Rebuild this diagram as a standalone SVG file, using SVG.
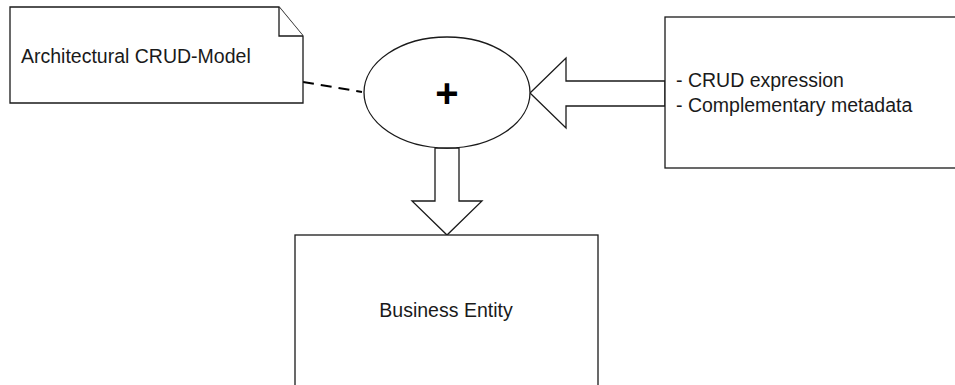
<svg xmlns="http://www.w3.org/2000/svg" width="955" height="385" viewBox="0 0 955 385">
  <style>
    .shape { fill: #ffffff; stroke: #1a1a1a; stroke-width: 1.3; }
    .label { font-family: "Liberation Sans", Arial, sans-serif; font-size: 19.5px; fill: #1a1a1a; }
    .dash { fill: none; stroke: #000; stroke-width: 2; stroke-dasharray: 11 7; }
  </style>
  <rect width="955" height="385" fill="#ffffff"/>

  <!-- connectors -->
  <g id="connectors">
    <line class="dash" x1="303" y1="82" x2="362" y2="92"/>
    <!-- block arrow from the metadata box into the merge node -->
    <polygon class="shape" points="665,81 566,81 566,58 530,93 566,128 566,106 665,106"/>
    <!-- block arrow from the merge node down to the entity -->
    <polygon class="shape" points="435,148 435,201 412,201 447,235 482,201 459,201 459,148"/>
  </g>

  <!-- note with folded corner -->
  <g id="crud-model">
    <path class="shape" d="M10,7 H279 L303,36 V103 H10 Z"/>
    <path class="shape" d="M279,7 V36 H303" fill="none"/>
    <text class="label" x="21" y="63">Architectural CRUD-Model</text>
  </g>

  <!-- merge node -->
  <g id="merge">
    <ellipse class="shape" cx="447" cy="92.5" rx="83" ry="55.5"/>
    <text x="447" y="107" text-anchor="middle" font-family="Liberation Sans, Arial, sans-serif" font-size="40" font-weight="bold" fill="#000">+</text>
  </g>

  <!-- inputs box -->
  <g id="inputs">
    <rect class="shape" x="665" y="17" width="300" height="151"/>
    <text class="label" x="676" y="87">- CRUD expression</text>
    <text class="label" x="676" y="112">- Complementary metadata</text>
  </g>

  <!-- result box -->
  <g id="business-entity">
    <rect class="shape" x="295" y="235" width="303" height="160"/>
    <text class="label" x="446" y="317" text-anchor="middle">Business Entity</text>
  </g>
</svg>
